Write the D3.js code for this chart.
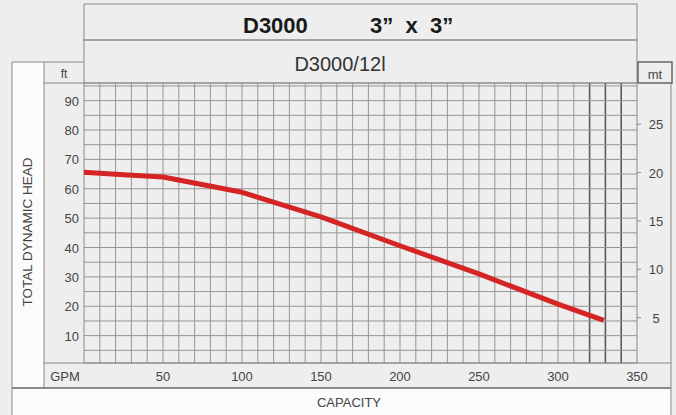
<!DOCTYPE html>
<html>
<head>
<meta charset="utf-8">
<script src="https://cdn.jsdelivr.net/npm/d3@7"></script>
<style>
  body { margin: 0; background: #ededed; }
  text { font-family: Arial, "Liberation Sans", sans-serif; }
</style>
</head>
<body>
<script>
const width = 676;
const height = 415;

// Curve: capacity (GPM) vs head (ft)
const capacity = [0, 25, 50, 100, 150, 200, 250, 300, 329];
const headFt = [65.6, 64.8, 64.0, 58.8, 50.4, 40.6, 31.0, 20.7, 15.2];

// Tick labels
const gpmTicks = [50, 100, 150, 200, 250, 300, 350];
const ftTicks = [10, 20, 30, 40, 50, 60, 70, 80, 90];
const mtTicks = [5, 10, 15, 20, 25];
const darkGpmLines = [320, 330, 340];

const titleModel = "D3000";
const titleSize = "3\u201D  x  3\u201D";
const subtitle = "D3000/12l";

const frameColor = "#8a8a8a";
const gridColor = "#959595";
const textColor = "#444";

const svg = d3.select("body").append("svg")
  .attr("width", width)
  .attr("height", height);

// Scales for the plot area.
const x = d3.scaleLinear().domain([0, 350]).range([84, 637]);
const y = d3.scaleLinear().domain([0, 96]).range([365, 83]);
const yM = d3.scaleLinear().domain([0, 96 * 0.3048]).range([366, 83]);
const gridTop = y(96);
const gridBottom = 363;

// Background fill.
svg.append("rect").attr("width", width).attr("height", height).attr("fill", "#eeeeee");

// White label boxes (left axis title, bottom capacity box).
svg.append("rect").attr("x", 12).attr("y", 62).attr("width", 32).attr("height", 326).attr("fill", "#fbfbfb");
svg.append("rect").attr("x", 12).attr("y", 388).attr("width", 659).attr("height", 40).attr("fill", "#fbfbfb");

// Frame lines
const frame = svg.append("g").attr("stroke", frameColor).attr("stroke-width", 1).attr("fill", "none");
frame.append("rect").attr("x", x(0)).attr("y", 4).attr("width", x(350) - x(0)).attr("height", 36);
frame.append("rect").attr("x", x(0)).attr("y", 40).attr("width", x(350) - x(0)).attr("height", gridTop - 40);
frame.append("path").attr("d", `M12,${height} V62 H${x(0)}`);
frame.append("path").attr("d", `M44,62 V388`);
frame.append("path").attr("d", `M44,${gridTop} H${x(0)}`);
frame.append("path").attr("d", `M44,${gridBottom} H671`);
frame.append("path").attr("d", `M12,388 H671`).attr("stroke", "#666").attr("stroke-width", 1.5);
frame.append("path").attr("d", `M671,${gridTop} V${height}`);
frame.append("rect").attr("x", x(350) + 1).attr("y", 62).attr("width", 34).attr("height", gridTop - 62)
  .attr("stroke", "#666").attr("stroke-width", 1.5);

// Grid
const grid = svg.append("g");
grid.selectAll(".vline")
  .data(d3.range(10, 350, 10))
  .join("line")
  .attr("class", "vline")
  .attr("x1", d => x(d)).attr("x2", d => x(d))
  .attr("y1", gridTop).attr("y2", gridBottom)
  .attr("stroke", d => darkGpmLines.includes(d) ? "#5a5a5a" : gridColor)
  .attr("stroke-width", d => darkGpmLines.includes(d) ? 1.6 : 1);

grid.selectAll(".hline")
  .data(d3.range(5, 96, 5))
  .join("line")
  .attr("class", "hline")
  .attr("x1", x(0)).attr("x2", x(350))
  .attr("y1", d => y(d)).attr("y2", d => y(d))
  .attr("stroke", gridColor)
  .attr("stroke-width", 1);

grid.append("rect")
  .attr("x", x(0)).attr("y", gridTop)
  .attr("width", x(350) - x(0)).attr("height", gridBottom - gridTop)
  .attr("fill", "none").attr("stroke", frameColor);

// Right meter ticks
svg.selectAll(".mtick")
  .data(mtTicks)
  .join("line")
  .attr("x1", x(350)).attr("x2", x(350) + 4)
  .attr("y1", d => yM(d)).attr("y2", d => yM(d))
  .attr("stroke", frameColor);

// Performance curve
const line = d3.line()
  .x((d, i) => x(capacity[i]))
  .y(d => y(d));

svg.append("path")
  .datum(headFt)
  .attr("d", line)
  .attr("fill", "none")
  .attr("stroke", "#d42424")
  .attr("stroke-width", 5)
  .attr("stroke-linejoin", "round");

// Titles
svg.append("text")
  .attr("x", 243).attr("y", 33)
  .style("font-size", "22px").style("font-weight", "bold").attr("fill", "#1a1a1a")
  .text(titleModel);
svg.append("text")
  .attr("x", 370).attr("y", 33)
  .style("white-space", "pre")
  .style("font-size", "22px").style("font-weight", "bold").attr("fill", "#1a1a1a")
  .text(titleSize);

svg.append("text")
  .attr("x", 340).attr("y", 71)
  .attr("text-anchor", "middle")
  .style("font-size", "20px").attr("fill", "#333")
  .text(subtitle);

// Axis tick labels
svg.selectAll(".ftlabel")
  .data(ftTicks)
  .join("text")
  .attr("x", 79).attr("y", d => y(d) + 5)
  .attr("text-anchor", "end")
  .style("font-size", "13px").attr("fill", textColor)
  .text(d => d);

svg.selectAll(".mtlabel")
  .data(mtTicks)
  .join("text")
  .attr("x", 656).attr("y", d => yM(d) + 5)
  .attr("text-anchor", "middle")
  .style("font-size", "13px").attr("fill", textColor)
  .text(d => d);

svg.selectAll(".gpmlabel")
  .data(gpmTicks)
  .join("text")
  .attr("x", d => x(d)).attr("y", 381)
  .attr("text-anchor", "middle")
  .style("font-size", "13px").attr("fill", textColor)
  .text(d => d);

svg.append("text").attr("x", 65).attr("y", 381).attr("text-anchor", "middle")
  .style("font-size", "13px").attr("fill", textColor).text("GPM");
svg.append("text").attr("x", 64).attr("y", 78).attr("text-anchor", "middle")
  .style("font-size", "12px").attr("fill", textColor).text("ft");
svg.append("text").attr("x", 655).attr("y", 79).attr("text-anchor", "middle")
  .style("font-size", "13px").attr("fill", textColor).text("mt");

svg.append("text").attr("x", 349).attr("y", 407).attr("text-anchor", "middle")
  .style("font-size", "13px").attr("fill", textColor).text("CAPACITY");

svg.append("text")
  .attr("transform", `translate(32,232) rotate(-90)`)
  .attr("text-anchor", "middle")
  .style("font-size", "13.5px").attr("fill", textColor)
  .text("TOTAL DYNAMIC HEAD");
</script>
</body>
</html>
